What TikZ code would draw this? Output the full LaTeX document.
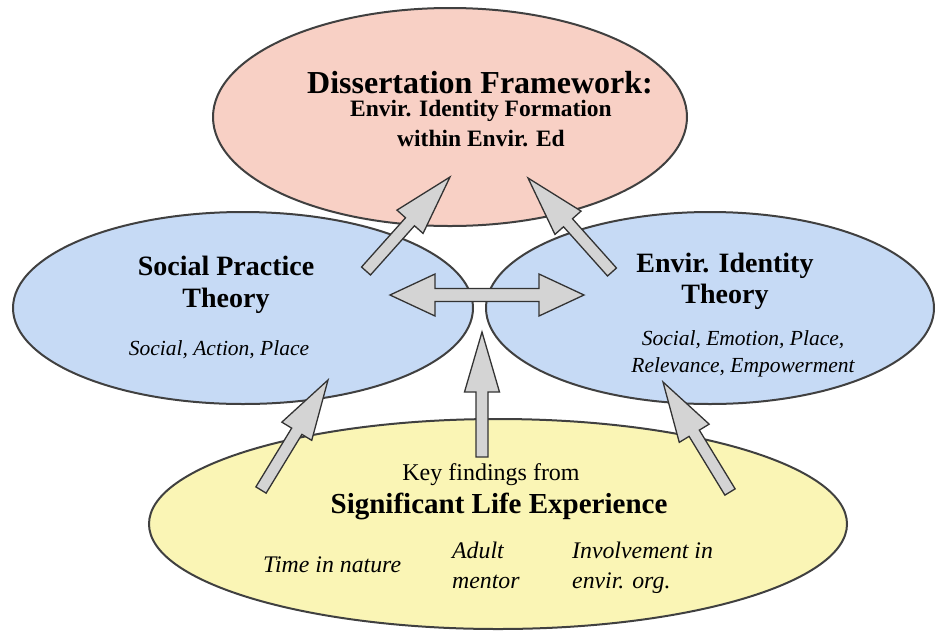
\documentclass[tikz,border=0pt]{standalone}
\usepackage{fontspec}
\setmainfont{Liberation Serif}
\usetikzlibrary{shapes.geometric,calc}

\definecolor{framepink}{HTML}{F8D0C5}
\definecolor{theoryblue}{HTML}{C6DAF5}
\definecolor{slyellow}{HTML}{FAF5B5}
\definecolor{arrowgray}{HTML}{D4D4D4}
\definecolor{rimgray}{HTML}{404040}

\tikzset{
  bubble/.style={draw=rimgray, line width=2pt, ellipse, inner sep=0pt},
  upblock/.style={draw=black!80, fill=arrowgray, line width=1.3pt, line join=miter,
    to path={let \p1=(\tikztostart), \p2=(\tikztotarget),
      \n1={atan2(\y2-\y1,\x2-\x1)}, \n2={veclen(\x2-\x1,\y2-\y1)} in
      ($(\p1)+({\n1-90}:6pt)$) -- ($(\p1)+(\n1:{\n2-60pt})+({\n1-90}:6pt)$)
      -- ($(\p1)+(\n1:{\n2-60pt})+({\n1-90}:17.5pt)$) -- (\p2)
      -- ($(\p1)+(\n1:{\n2-60pt})+({\n1+90}:17.5pt)$)
      -- ($(\p1)+(\n1:{\n2-60pt})+({\n1+90}:6pt)$)
      -- ($(\p1)+({\n1+90}:6pt)$) -- cycle}},
  twinblock/.style={draw=black!80, fill=arrowgray, line width=1.3pt, line join=miter,
    to path={let \p1=(\tikztostart), \p2=(\tikztotarget),
      \n1={atan2(\y2-\y1,\x2-\x1)}, \n2={veclen(\x2-\x1,\y2-\y1)} in
      (\p1) -- ($(\p1)+(\n1:45pt)+({\n1-90}:21pt)$)
      -- ($(\p1)+(\n1:45pt)+({\n1-90}:6.5pt)$)
      -- ($(\p1)+(\n1:{\n2-45pt})+({\n1-90}:6.5pt)$)
      -- ($(\p1)+(\n1:{\n2-45pt})+({\n1-90}:21pt)$) -- (\p2)
      -- ($(\p1)+(\n1:{\n2-45pt})+({\n1+90}:21pt)$)
      -- ($(\p1)+(\n1:{\n2-45pt})+({\n1+90}:6.5pt)$)
      -- ($(\p1)+(\n1:45pt)+({\n1+90}:6.5pt)$)
      -- ($(\p1)+(\n1:45pt)+({\n1+90}:21pt)$) -- cycle}},
  heading/.style={font=\fontsize{28}{32}\selectfont\bfseries, align=center, inner sep=0pt, anchor=base},
  keywords/.style={font=\fontsize{21.5}{28}\selectfont\itshape, align=center, inner sep=0pt, anchor=base},
  findings/.style={font=\fontsize{23.8}{30}\selectfont\itshape, align=left, inner sep=0pt, anchor=base west}
}

\begin{document}
\begin{tikzpicture}[x=1pt, y=-1pt]
\useasboundingbox (0,0) rectangle (937,638);

% the four bubbles
\node[bubble, fill=slyellow, minimum width=698pt, minimum height=210pt] (sle) at (498,524) {};
\node[bubble, fill=theoryblue, minimum width=460pt, minimum height=192pt] (spt) at (243,308) {};
\node[bubble, fill=theoryblue, minimum width=448pt, minimum height=192pt] (eit) at (710,308) {};
\node[bubble, fill=framepink, minimum width=474pt, minimum height=218pt] (frame) at (450,117) {};

% arrow ends
\coordinate (spt-out) at (366,271);
\coordinate (frame-inl) at (450,177);
\coordinate (eit-out) at (612,272);
\coordinate (frame-inr) at (528,178);
\coordinate (twin-l) at (390,295);
\coordinate (twin-r) at (584,295);
\coordinate (sle-outm) at (482,457);
\coordinate (mid-in) at (482,332);
\coordinate (sle-outl) at (261,490);
\coordinate (spt-in) at (328,380);
\coordinate (sle-outr) at (730,492);
\coordinate (eit-in) at (663,382);

\draw[upblock] (spt-out) to (frame-inl);
\draw[upblock] (eit-out) to (frame-inr);
\draw[twinblock] (twin-l) to (twin-r);
\draw[upblock] (sle-outm) to (mid-in);
\draw[upblock] (sle-outl) to (spt-in);
\draw[upblock] (sle-outr) to (eit-in);

% texts (base = last line)
\node[heading, font=\fontsize{32}{36}\selectfont\bfseries] (frame-title) at (480,93) {Dissertation Framework:};
\node[heading, font=\fontsize{23.5}{30}\selectfont\bfseries] (frame-sub) at (481,146) {Envir. Identity Formation\\within Envir. Ed};
\node[heading] (spt-title) at (226,307) {Social Practice\\Theory};
\node[keywords] (spt-keys) at (219,355) {Social, Action, Place};
\node[heading, font=\fontsize{28}{31}\selectfont\bfseries] (eit-title) at (725,303) {Envir. Identity\\Theory};
\node[keywords, font=\fontsize{21.5}{27}\selectfont\itshape] (eit-keys) at (743,372) {Social, Emotion, Place,\\Relevance, Empowerment};
\node[heading, font=\fontsize{24}{28}\selectfont] (sle-key) at (491,480) {Key findings from};
\node[heading, font=\fontsize{29}{32}\selectfont\bfseries] (sle-title) at (499,513) {Significant Life Experience};
\node[findings] (sle-time) at (263,572) {Time in nature};
\node[findings] (sle-adult) at (452,588) {Adult\\mentor};
\node[findings] (sle-org) at (572,588) {Involvement in\\envir. org.};
\end{tikzpicture}
\end{document}
